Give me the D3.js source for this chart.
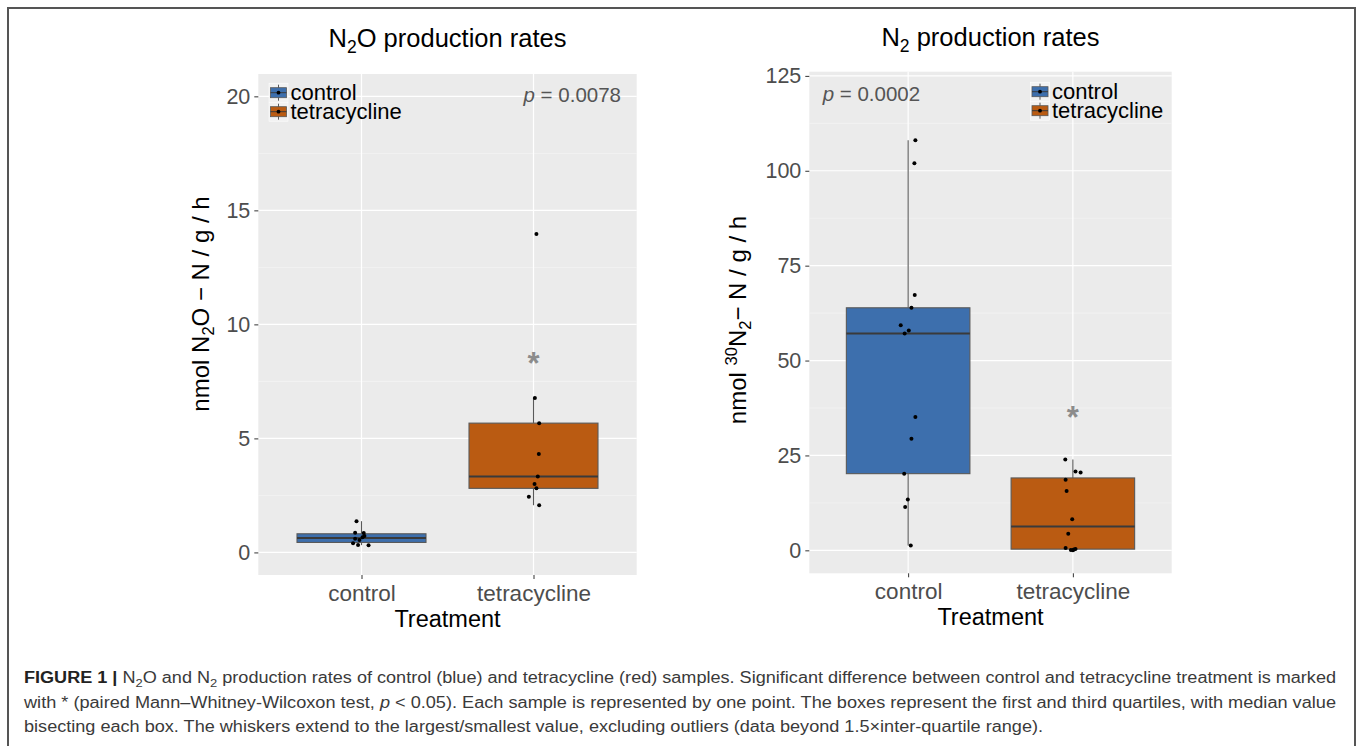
<!DOCTYPE html>
<html>
<head>
<meta charset="utf-8">
<script src="https://cdn.jsdelivr.net/npm/d3@7"></script>
<style>
  html, body { margin: 0; padding: 0; background: #ffffff; }
  svg { display: block; font-family: "Liberation Sans", Arial, Helvetica, sans-serif; }
</style>
</head>
<body>
<svg id="fig" width="1358" height="746"></svg>
<script>
// ---------------- data ----------------
const categories = ["control", "tetracycline"];
const groupColors = ["#3D6FAD", "#BA5B12"];

// N2O production rates (nmol N2O-N/g/h)
const n2oControl = [1.37, 0.86, 0.85, 0.72, 0.66, 0.60, 0.55, 0.40, 0.33, 0.32];
const n2oControlJitter = [-0.029, -0.037, 0.013, 0.017, 0.006, -0.037, -0.012, -0.049, -0.020, 0.041];
const n2oTetra = [13.96, 6.77, 5.67, 4.32, 3.33, 3.00, 2.81, 2.44, 2.07];
const n2oTetraJitter = [0.017, 0.008, 0.033, 0.031, 0.025, 0.006, 0.017, -0.027, 0.033];
const n2oTicks = [0, 5, 10, 15, 20];
const n2oMinor = [2.5, 7.5, 12.5, 17.5];
const n2oDomain = [-0.99, 20.98];
const n2oPValue = "0.0078";
const n2oStarY = [null, 8.55];

// N2 production rates (nmol 30N2-N/g/h)
const n2Control = [108.05, 102.0, 67.3, 63.9, 59.3, 57.9, 57.1, 35.1, 29.4, 20.2, 13.4, 11.4, 1.3];
const n2ControlJitter = [0.044, 0.038, 0.040, 0.020, -0.045, 0.004, -0.021, 0.044, 0.020, -0.024, -0.002, -0.018, 0.016];
const n2Tetra = [23.9, 20.8, 20.5, 18.6, 15.6, 8.2, 4.4, 0.6, 0.35, 0.2, 0.1, 0.0];
const n2TetraJitter = [-0.046, 0.016, 0.047, -0.044, -0.038, -0.004, -0.028, -0.044, 0.016, 0.006, -0.012, 0.0];
const n2Ticks = [0, 25, 50, 75, 100, 125];
const n2Minor = [12.5, 37.5, 62.5, 87.5, 112.5];
const n2Domain = [-6.05, 126.1];
const n2PValue = "0.0002";
const n2StarY = [null, 36.7];

const captionLines = [
  [{b:"FIGURE 1 | "}, {t:"N"}, {s:"2"}, {t:"O and N"}, {s:"2"}, {t:" production rates of control (blue) and tetracycline (red) samples. Significant difference between control and tetracycline treatment is marked"}],
  [{t:"with * (paired Mann–Whitney-Wilcoxon test, "}, {i:"p"}, {t:" < 0.05). Each sample is represented by one point. The boxes represent the first and third quartiles, with median value"}],
  [{t:"bisecting each box. The whiskers extend to the largest/smallest value, excluding outliers (data beyond 1.5×inter-quartile range)."}]
];

// ---------------- drawing ----------------
const svg = d3.select("#fig");

// figure frame
svg.append("rect").attr("x", 8).attr("y", 8).attr("width", 1347).attr("height", 760)
  .attr("fill", "none").attr("stroke", "#555").attr("stroke-width", 2);

function boxStats(vals) {
  const s = vals.slice().sort(d3.ascending);
  const q1 = d3.quantile(s, 0.25), med = d3.quantile(s, 0.5), q3 = d3.quantile(s, 0.75);
  const iqr = q3 - q1;
  const lo = d3.min(s.filter(v => v >= q1 - 1.5 * iqr));
  const hi = d3.max(s.filter(v => v <= q3 + 1.5 * iqr));
  return {q1, med, q3, lo, hi};
}

function drawPanel(cfg) {
  const g = svg.append("g");
  const x = d3.scalePoint().domain(categories).range([cfg.x0, cfg.x1]).padding(0.6);
  const y = d3.scaleLinear().domain(cfg.domain).range([cfg.y1, cfg.y0]);
  const step = x.step();

  // panel background
  g.append("rect").attr("x", cfg.x0).attr("y", cfg.y0)
    .attr("width", cfg.x1 - cfg.x0).attr("height", cfg.y1 - cfg.y0).attr("fill", "#EBEBEB");
  // minor grid
  g.selectAll(".minor").data(cfg.minor).join("line")
    .attr("x1", cfg.x0).attr("x2", cfg.x1).attr("y1", d => y(d)).attr("y2", d => y(d))
    .attr("stroke", "#F6F6F6").attr("stroke-width", 0.6);
  // major grid
  g.selectAll(".major").data(cfg.ticks).join("line")
    .attr("x1", cfg.x0).attr("x2", cfg.x1).attr("y1", d => y(d)).attr("y2", d => y(d))
    .attr("stroke", "#FFFFFF").attr("stroke-width", 1.2);
  g.selectAll(".vmajor").data(categories).join("line")
    .attr("x1", d => x(d)).attr("x2", d => x(d)).attr("y1", cfg.y0).attr("y2", cfg.y1)
    .attr("stroke", "#FFFFFF").attr("stroke-width", 1.2);

  // boxes
  const bw = step * 0.75;
  cfg.groups.forEach((vals, i) => {
    const st = boxStats(vals);
    const cx = x(categories[i]);
    const gg = g.append("g");
    gg.append("line").attr("x1", cx).attr("x2", cx).attr("y1", y(st.q3)).attr("y2", y(st.hi))
      .attr("stroke", "#595959").attr("stroke-width", 1.1);
    gg.append("line").attr("x1", cx).attr("x2", cx).attr("y1", y(st.q1)).attr("y2", y(st.lo))
      .attr("stroke", "#595959").attr("stroke-width", 1.1);
    gg.append("rect").attr("x", cx - bw / 2).attr("y", y(st.q3))
      .attr("width", bw).attr("height", y(st.q1) - y(st.q3))
      .attr("fill", groupColors[i]).attr("stroke", "#595959").attr("stroke-width", 1.1);
    gg.append("line").attr("x1", cx - bw / 2).attr("x2", cx + bw / 2)
      .attr("y1", y(st.med)).attr("y2", y(st.med))
      .attr("stroke", "#3a3a3a").attr("stroke-width", 2);
  });

  // points
  cfg.groups.forEach((vals, i) => {
    const cx = x(categories[i]);
    g.selectAll(null).data(vals.map((v, k) => [v, cfg.jitter[i][k]])).join("circle")
      .attr("cx", d => cx + d[1] * step).attr("cy", d => y(d[0])).attr("r", 2)
      .attr("fill", "#000");
  });

  // significance stars
  cfg.star.forEach((v, i) => {
    if (v == null) return;
    g.append("text").attr("x", x(categories[i])).attr("y", y(v) + 17)
      .attr("text-anchor", "middle").attr("font-size", 31).attr("font-weight", "bold")
      .attr("fill", "#8C8C8C").text("*");
  });

  // p value
  const pt = g.append("text").attr("x", cfg.pX).attr("y", cfg.pY)
    .attr("text-anchor", cfg.pAnchor).attr("font-size", 20.5).attr("fill", "#555555");
  pt.append("tspan").attr("font-style", "italic").text("p");
  pt.append("tspan").text(" = " + cfg.p);

  // axes
  const ya = g.append("g").attr("transform", `translate(${cfg.x0},0)`)
    .call(d3.axisLeft(y).tickValues(cfg.ticks).tickSize(4).tickPadding(4));
  const xa = g.append("g").attr("transform", `translate(0,${cfg.y1})`)
    .call(d3.axisBottom(x).tickSize(4).tickPadding(6));
  [ya, xa].forEach((a, k) => {
    a.select(".domain").remove();
    a.selectAll(".tick line").attr("stroke", "#333").attr("stroke-width", 1);
    a.selectAll(".tick text").attr("fill", "#4D4D4D").attr("font-size", k === 0 ? 21.5 : 22.5)
      .attr("font-family", "Liberation Sans, Arial, sans-serif");
  });

  // legend
  const lg = g.append("g");
  categories.forEach((c, i) => {
    const ry = cfg.legY + i * 19;
    const kx = cfg.legX;
    lg.append("rect").attr("x", kx).attr("y", ry - 9.5).attr("width", 19).attr("height", 19)
      .attr("fill", "#F2F2F2").attr("stroke", "#FFFFFF").attr("stroke-width", 0.5);
    lg.append("line").attr("x1", kx + 9.5).attr("x2", kx + 9.5).attr("y1", ry - 8).attr("y2", ry + 8)
      .attr("stroke", "#595959").attr("stroke-width", 1);
    lg.append("rect").attr("x", kx + 1.5).attr("y", ry - 5).attr("width", 16).attr("height", 10)
      .attr("fill", groupColors[i]).attr("stroke", "#595959").attr("stroke-width", 0.8);
    lg.append("line").attr("x1", kx + 1.5).attr("x2", kx + 17.5).attr("y1", ry).attr("y2", ry)
      .attr("stroke", "#3a3a3a").attr("stroke-width", 1);
    lg.append("circle").attr("cx", kx + 9.5).attr("cy", ry).attr("r", 1.9).attr("fill", "#000");
    lg.append("text").attr("x", kx + 21.5).attr("y", ry + 7.5).attr("font-size", 22)
      .attr("fill", "#000").text(c);
  });

  // title
  const t = g.append("text").attr("x", (cfg.x0 + cfg.x1) / 2).attr("y", cfg.titleY)
    .attr("text-anchor", "middle").attr("font-size", 25.5).attr("fill", "#000");
  cfg.title.forEach(p => {
    if (p.s) t.append("tspan").attr("font-size", 17.5).attr("dy", 6).text(p.s);
    else t.append("tspan").attr("dy", p.after ? -6 : 0).text(p.t);
  });

  // x axis title
  g.append("text").attr("x", (cfg.x0 + cfg.x1) / 2).attr("y", cfg.y1 + 52)
    .attr("text-anchor", "middle").attr("font-size", 23.5).attr("fill", "#000").text("Treatment");

  // y axis title
  const yt = g.append("text").attr("transform", `translate(${cfg.yTitleX},${cfg.yTitleY}) rotate(-90)`)
    .attr("text-anchor", "middle").attr("font-size", 24).attr("fill", "#000");
  cfg.yTitle.forEach(p => {
    if (p.s) yt.append("tspan").attr("font-size", 16.5).attr("dy", p.dy).text(p.s);
    else yt.append("tspan").attr("dy", p.dy || 0).text(p.t);
  });
}

drawPanel({
  x0: 258.3, x1: 636.7, y0: 74, y1: 575, domain: n2oDomain,
  ticks: n2oTicks, minor: n2oMinor,
  groups: [n2oControl, n2oTetra], jitter: [n2oControlJitter, n2oTetraJitter],
  star: n2oStarY, p: n2oPValue, pX: 621, pY: 102, pAnchor: "end",
  legX: 269, legY: 92.7, titleY: 47,
  title: [{t:"N"}, {s:"2"}, {t:"O production rates", after:true}],
  yTitleX: 209, yTitleY: 304,
  yTitle: [{t:"nmol N"}, {s:"2", dy:5}, {t:"O − N / g / h", dy:-5}]
});

drawPanel({
  x0: 809.3, x1: 1171.7, y0: 71.7, y1: 573.3, domain: n2Domain,
  ticks: n2Ticks, minor: n2Minor,
  groups: [n2Control, n2Tetra], jitter: [n2ControlJitter, n2TetraJitter],
  star: n2StarY, p: n2PValue, pX: 822.7, pY: 101, pAnchor: "start",
  legX: 1030.5, legY: 91.7, titleY: 45.5,
  title: [{t:"N"}, {s:"2"}, {t:" production rates", after:true}],
  yTitleX: 746, yTitleY: 320,
  yTitle: [{t:"nmol "}, {s:"30", dy:-9}, {t:"N", dy:9}, {s:"2", dy:5}, {t:"− N / g / h", dy:-5}]
});

// caption
const capY = [683, 708, 732];
const capLen = [1312, 1312, 1019];
captionLines.forEach((parts, li) => {
  const t = svg.append("text").attr("x", 24).attr("y", capY[li]).attr("font-size", 16)
    .attr("fill", "#3A3A3A").attr("textLength", capLen[li]).attr("lengthAdjust", "spacingAndGlyphs");
  let shifted = false;
  parts.forEach(p => {
    if (p.b) t.append("tspan").attr("font-weight", "bold").attr("fill", "#222").text(p.b);
    else if (p.s) { t.append("tspan").attr("font-size", 11.5).attr("dy", 4).text(p.s); shifted = true; }
    else if (p.i) t.append("tspan").attr("font-style", "italic").text(p.i);
    else { t.append("tspan").attr("dy", shifted ? -4 : 0).text(p.t); shifted = false; }
  });
});
</script>
</body>
</html>
